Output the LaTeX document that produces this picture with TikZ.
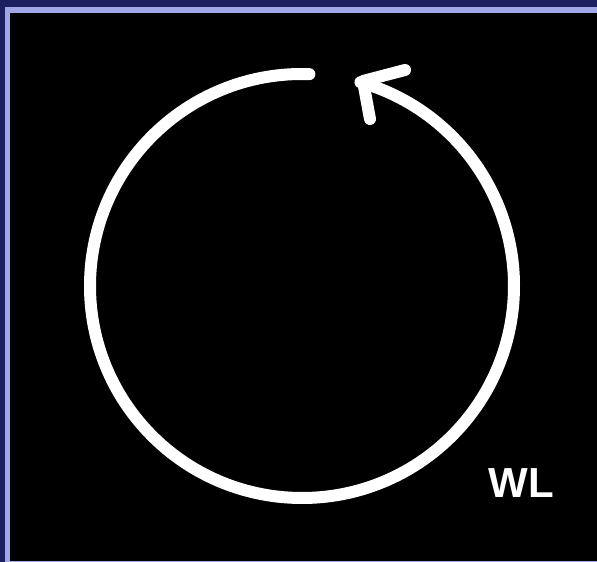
\documentclass[tikz,border=0pt]{standalone}
\usepackage{fontspec}
\setmainfont{Liberation Sans}
\definecolor{navy}{RGB}{28,32,96}
\definecolor{lav}{RGB}{160,168,232}
\begin{document}
\begin{tikzpicture}[x=1pt,y=1pt,
  stroke/.style={white,line width=12pt,line cap=round,line join=round}]
\useasboundingbox (0,0) rectangle (597,562);
\fill[navy] (0,0) rectangle (597,562);
\fill[lav] (5,0) rectangle (597,555);
\fill[black] (10,1) rectangle (597,549);
\coordinate (c) at (302,276);
\draw[stroke] (c) ++(88:212) arc[start angle=88,end angle=434,radius=212];
\coordinate (tip) at (363,481);
\coordinate (arm1) at (405,492);
\coordinate (arm2) at (370,443);
\draw[stroke] (arm1) -- (tip) -- (arm2);
\node[text=white,font=\fontsize{42}{42}\selectfont\bfseries] (wl) at (521,79) {WL};
\end{tikzpicture}
\end{document}
